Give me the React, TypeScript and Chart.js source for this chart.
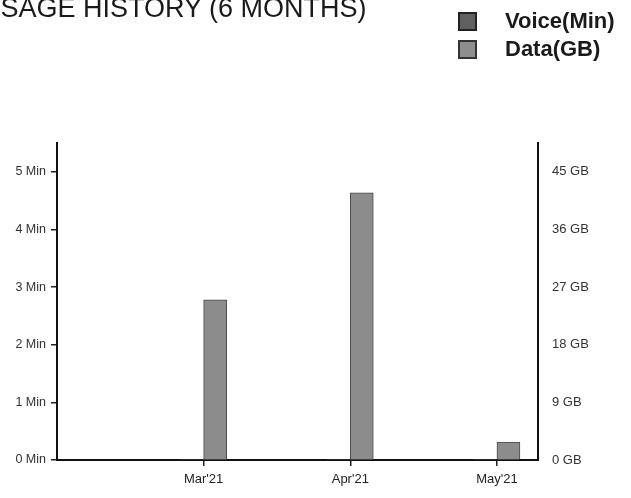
import React, { useEffect, useRef } from "react";
import { Chart, registerables } from "chart.js";

Chart.register(...registerables);

const title = "USAGE HISTORY (6 MONTHS)";
const monthLabels = ["Mar'21", "Apr'21", "May'21"];
const monthPositions = [1, 2, 3];
const voiceMinutes = [0, 0, 0];
const dataGB = [25, 41.7, 2.8];
const voiceTicks = [0, 1, 2, 3, 4, 5];
const dataTicks = [0, 9, 18, 27, 36, 45];

const FONT = "'Liberation Sans', Arial, sans-serif";

export default function App() {
  const ref = useRef<HTMLCanvasElement | null>(null);

  useEffect(() => {
    if (!ref.current) return;
    const chart = new Chart(ref.current, {
      type: "bar",
      data: {
        datasets: [
          {
            label: "Voice(Min)",
            data: monthPositions.map((x, i) => ({ x, y: voiceMinutes[i] })),
            yAxisID: "y",
            backgroundColor: "#5a5a5a",
            borderColor: "#2a2a2a",
            borderWidth: 0,
            barThickness: 23,
          },
          {
            label: "Data(GB)",
            data: monthPositions.map((x, i) => ({ x, y: dataGB[i] })),
            yAxisID: "y1",
            backgroundColor: "#8c8c8c",
            borderColor: "#4a4a4a",
            borderWidth: 1,
            barThickness: 23,
          },
        ],
      },
      options: {
        responsive: false,
        animation: false,
        layout: { padding: { top: 143, left: 0, right: 0, bottom: 0 } },
        plugins: {
          legend: { display: false },
          title: { display: false },
          tooltip: { enabled: false },
        },
        scales: {
          x: {
            type: "linear",
            offset: false,
            min: 0,
            max: 3.28,
            afterBuildTicks: (scale: any) => {
              scale.ticks = monthPositions.map((v) => ({ value: v }));
            },
            afterFit: (scale: any) => {
              scale.height = 38;
            },
            ticks: {
              color: "#222",
              font: { family: FONT, size: 13 },
              padding: 6,
              callback: (v: any) => monthLabels[monthPositions.indexOf(Number(v))] ?? "",
            },
            grid: {
              offset: false,
              drawOnChartArea: false,
              drawTicks: true,
              tickLength: 6,
              color: "#222",
              lineWidth: 1.5,
            },
            border: { display: true, color: "#111", width: 2 },
          },
          y: {
            position: "left",
            min: 0,
            max: 5.5,
            afterBuildTicks: (scale: any) => {
              scale.ticks = voiceTicks.map((v) => ({ value: v }));
            },
            afterFit: (scale: any) => {
              scale.width = 57;
            },
            ticks: {
              color: "#333",
              font: { family: FONT, size: 12.5 },
              padding: 5,
              callback: (v: any) => `${v} Min`,
            },
            grid: {
              drawOnChartArea: false,
              drawTicks: true,
              tickLength: 6,
              color: "#222",
              lineWidth: 1.5,
            },
            border: { display: true, color: "#111", width: 2 },
          },
          y1: {
            position: "right",
            min: 0,
            max: 49.5,
            afterBuildTicks: (scale: any) => {
              scale.ticks = dataTicks.map((v) => ({ value: v }));
            },
            afterFit: (scale: any) => {
              scale.width = 93;
            },
            ticks: {
              color: "#333",
              font: { family: FONT, size: 13 },
              padding: 14,
              callback: (v: any) => `${v} GB`,
            },
            grid: { drawOnChartArea: false, drawTicks: false },
            border: { display: true, color: "#111", width: 2 },
          },
        },
      },
    });
    return () => chart.destroy();
  }, []);

  const legendItems = [
    { label: "Voice(Min)", fill: "#606060", border: "#222", top: 12 },
    { label: "Data(GB)", fill: "#8e8e8e", border: "#333", top: 40 },
  ];

  return (
    <div
      style={{
        position: "fixed",
        left: 0,
        top: 0,
        width: 631,
        height: 498,
        overflow: "hidden",
        background: "#fff",
        fontFamily: FONT,
      }}
    >
      <canvas ref={ref} width={631} height={498} style={{ position: "absolute", left: 0, top: 0 }} />
      <div
        style={{
          position: "absolute",
          left: -19,
          top: -5,
          fontSize: 27,
          lineHeight: 1,
          color: "#1a1a1a",
          whiteSpace: "nowrap",
        }}
      >
        {title}
      </div>
      {legendItems.map((it) => (
        <div key={it.label}>
          <div
            style={{
              position: "absolute",
              left: 458,
              top: it.top,
              width: 15,
              height: 15,
              background: it.fill,
              border: `2px solid ${it.border}`,
            }}
          />
          <div
            style={{
              position: "absolute",
              left: 505,
              top: it.top - 4,
              fontSize: 22,
              lineHeight: "26px",
              fontWeight: "bold",
              color: "#1a1a1a",
              whiteSpace: "nowrap",
            }}
          >
            {it.label}
          </div>
        </div>
      ))}
    </div>
  );
}
